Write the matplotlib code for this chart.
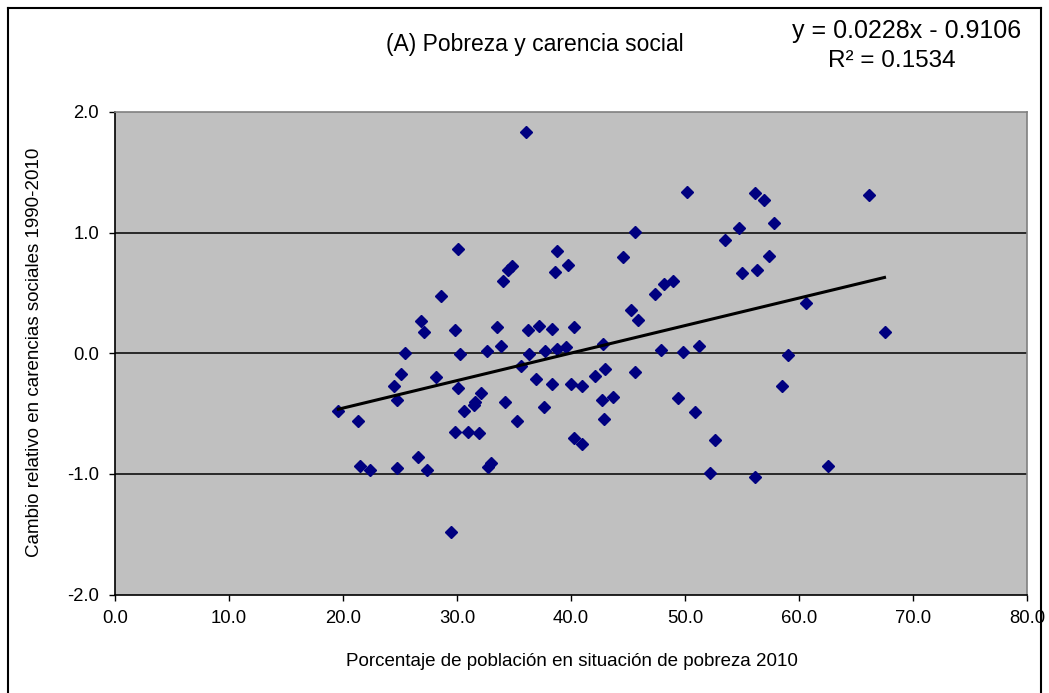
import matplotlib.pyplot as plt
from matplotlib.lines import Line2D

plt.rcParams['font.family'] = ['Liberation Sans', 'DejaVu Sans']

# Porcentaje de pobreza 2010 (x) vs cambio relativo en carencias 1990-2010 (y)
pobreza = [19.6, 21.3, 21.5, 22.4, 24.5, 24.7, 24.7, 25.1, 25.4, 26.6,
           26.8, 27.1, 27.4, 28.15, 28.6, 29.5, 29.8, 29.8, 30.1, 30.13,
           30.3, 30.6, 31.0, 31.45, 31.6, 31.9, 32.1, 32.6, 32.7, 33.0,
           33.5, 33.9, 34.07, 34.2, 34.5, 34.8, 35.3, 35.6, 36.06, 36.2,
           36.35, 36.9, 37.2, 37.6, 37.7, 38.3, 38.3, 38.6, 38.8, 38.8,
           39.6, 39.7, 40.0, 40.3, 40.3, 41.0, 41.0, 42.1, 42.7, 42.8,
           42.9, 43.0, 43.65, 44.55, 45.3, 45.6, 45.6, 45.9, 47.4, 47.9,
           48.2, 48.96, 49.4, 49.8, 50.2, 50.9, 51.2, 52.2, 52.6, 53.5,
           54.7, 55.0, 56.1, 56.1, 56.3, 56.9, 57.4, 57.8, 58.5, 59.0,
           60.6, 62.5, 66.1, 67.5]
cambio = [-0.475, -0.563, -0.934, -0.967, -0.27, -0.39, -0.953, -0.17, 0.0, -0.862,
          0.264, 0.173, -0.967, -0.198, 0.477, -1.484, 0.19, -0.649, -0.289, 0.865,
          -0.01, -0.477, -0.649, -0.433, -0.40, -0.663, -0.33, 0.015, -0.939, -0.911,
          0.214, 0.056, 0.60, -0.40, 0.693, 0.726, -0.563, -0.104, 1.832, 0.19,
          -0.01, -0.214, 0.23, -0.447, 0.02, 0.20, -0.256, 0.676, 0.85, 0.035,
          0.05, 0.734, -0.256, 0.214, -0.704, -0.275, -0.751, -0.187, -0.389, 0.076,
          -0.546, -0.131, -0.361, 0.795, 0.361, 1.008, -0.156, 0.275, 0.488, 0.03,
          0.577, 0.60, -0.375, 0.01, 1.34, -0.488, 0.056, -0.994, -0.718, 0.936,
          1.036, 0.662, 1.326, -1.022, 0.69, 1.268, 0.807, 1.08, -0.275, -0.012,
          0.419, -0.934, 1.31, 0.173]

# linear trend as reported in the equation
pendiente = 0.0228
intercepto = -0.9106
r2 = 0.1534

xticks = [0, 10, 20, 30, 40, 50, 60, 70, 80]
yticks = [-2, -1, 0, 1, 2]

W, H = 1049, 693
fig = plt.figure(figsize=(W / 100, H / 100), dpi=100)

def fx(px):
    return px / W

def fy(py):
    return 1 - py / H

ax = fig.add_axes([fx(115), fy(594.5), fx(1027) - fx(115), fy(112) - fy(594.5)])
ax.set_facecolor('#C0C0C0')
ax.set_xlim(0, 80)
ax.set_ylim(-2, 2)
ax.set_xticks(xticks)
ax.set_yticks(yticks)
ax.set_xticklabels([f'{v:.1f}' for v in xticks])
ax.set_yticklabels([f'{v:.1f}' for v in yticks])
ax.tick_params(axis='both', labelsize=13.3, direction='out', length=4.5, width=1, color='black')
ax.tick_params(axis='x', pad=7)
ax.tick_params(axis='y', pad=7)

for v in [-1, 0, 1]:
    ax.axhline(v, color='black', lw=1.1, zorder=1)

for side in ['left', 'bottom']:
    ax.spines[side].set_color('black')
    ax.spines[side].set_linewidth(1.2)
for side in ['top', 'right']:
    ax.spines[side].set_color('#808080')
    ax.spines[side].set_linewidth(1.2)

ax.plot(pobreza, cambio, linestyle='none', marker='D', markersize=6,
        color='#000080', markeredgecolor='#000080', zorder=3)

x0, x1 = min(pobreza), max(pobreza)
ax.plot([x0, x1], [pendiente * x0 + intercepto, pendiente * x1 + intercepto],
        color='black', lw=2.2, zorder=4)

fig.text(fx(535), fy(45), '(A) Pobreza y carencia social', fontsize=16.5,
         ha='center', va='center')
fig.text(fx(907), fy(31), f'y = {pendiente:.4f}x - {abs(intercepto):.4f}',
         fontsize=18, ha='center', va='center')
fig.text(fx(892), fy(61), f'R² = {r2:.4f}', fontsize=17.5,
         ha='center', va='center')
fig.text(fx(572), fy(661), 'Porcentaje de población en situación de pobreza 2010',
         fontsize=13.5, ha='center', va='center')
fig.text(fx(35), fy(352), 'Cambio relativo en carencias sociales 1990-2010',
         fontsize=13.5, ha='center', va='center', rotation=90)

# outer frame of the chart
for xs, ys in [([8, 1041], [8, 8]), ([8, 8], [8, 700]), ([1041, 1041], [8, 700])]:
    fig.add_artist(Line2D([fx(x) for x in xs], [fy(y) for y in ys], color='black', lw=1.5))

fig.savefig('out.png', dpi=100)
